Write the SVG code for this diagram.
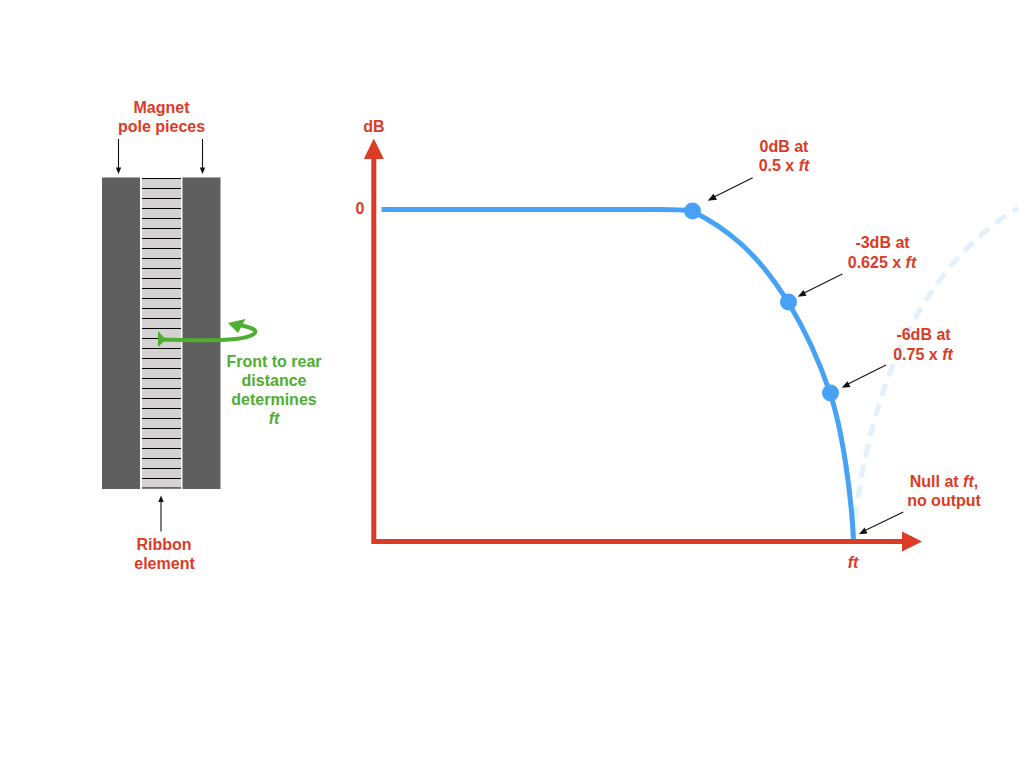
<svg xmlns="http://www.w3.org/2000/svg" width="1024" height="768" viewBox="0 0 1024 768">
<style>
text{font-family:"Liberation Sans",Arial,sans-serif;font-weight:700;font-size:16px;text-anchor:middle;fill:#dc3b26}
.g{fill:#4fae32}
.i{font-style:italic}
.pole{fill:#5f5f5f}
.rib{stroke:#000;stroke-width:1;fill:none}
.thin{stroke:#111;stroke-width:1.1;fill:none}
.head{fill:#111}
.axis{stroke:#dc3b26;stroke-width:5;fill:none}
.axh{fill:#dc3b26}
.curve{stroke:#47a2f6;stroke-width:5;fill:none}
.dot{fill:#47a2f6}
</style>
<rect width="1024" height="768" fill="#fff"/>
<g id="magnet">
<rect class="pole" x="102" y="177.5" width="38" height="311.5"/>
<rect class="pole" x="182.500" y="177.5" width="38" height="311.5"/>
<rect x="102" y="177" width="38" height="1" fill="#a8a8a8"/>
<rect x="182.500" y="177" width="38" height="1" fill="#a8a8a8"/>
</g>
<g id="ribbon">
<rect x="142" y="178" width="39" height="310" fill="#d4d2d2"/>
<path class="rib" d="M142 178.500H181M142 188.500H181M142 198.500H181M142 208.500H181M142 218.500H181M142 228.500H181M142 238.500H181M142 248.500H181M142 258.500H181M142 268.500H181M142 278.500H181M142 288.500H181M142 298.500H181M142 308.500H181M142 318.500H181M142 328.500H181M142 338.500H181M142 348.500H181M142 358.500H181M142 368.500H181M142 378.500H181M142 388.500H181M142 398.500H181M142 408.500H181M142 418.500H181M142 428.500H181M142 438.500H181M142 448.500H181M142 458.500H181M142 468.500H181M142 478.500H181M142 488H181"/>
</g>
<g id="connectors">
<path class="thin" d="M118.500 139V171"/><path class="head" d="M118.500 174L115.800 167.500H121.200Z"/>
<path class="thin" d="M202.500 139V171"/><path class="head" d="M202.500 174L199.800 167.500H205.200Z"/>
<path class="thin" d="M161 531.500V500"/><path class="head" d="M161 495.500L158.300 502H163.700Z"/>
<path class="thin" d="M752.700 177.700L712 198"/><path class="head" d="M707.700 200.700L713.500 193.800L717 199.800Z"/>
<path class="thin" d="M842.300 274L802 294"/><path class="head" d="M797.700 296.700L803.500 290L806.500 295.800Z"/>
<path class="thin" d="M886 365L846 385"/><path class="head" d="M841.700 387.700L847.500 381.300L850.500 387.100Z"/>
<path class="thin" d="M903.300 512L864 531"/><path class="head" d="M859 534.300L864.500 527.500L867.500 533.500Z"/>
<path d="M853 540C866 400 915 270 1018 208" fill="none" stroke="#e3f1fd" stroke-width="5" stroke-dasharray="13 8"/>
<path class="curve" d="M381.500 209.500H660C672 209.500 683 209.800 692 211C724 227 756 250 788 302C802 325 816 351 830 393C842 429 851 490 853.500 540"/>
<path class="axis" d="M373.800 155V541.400H905"/>
<path class="axh" d="M373.800 138.500L383.800 159H363.800Z"/>
<path class="axh" d="M922 541.400L902 531.500V551.500Z"/>
<path d="M160 339.500C190 340.500 220 340.500 236 339C254 337 258 332 254 329.500C250 327 245 326 238 324.500" fill="none" stroke="#4fae32" stroke-width="4"/>
<path d="M228 323L245.500 319L238 333Z" fill="#4fae32"/>
<path d="M158 331L166 339.500L158 347Z" fill="#4fae32"/>
</g>
<g id="points">
<circle class="dot" cx="692.500" cy="211" r="8.500"/>
<circle class="dot" cx="788.500" cy="302" r="8.500"/>
<circle class="dot" cx="830.500" cy="393" r="8.500"/>
</g>
<g id="labels">
<text x="161.500" y="112.500">Magnet</text>
<text x="161.500" y="131.500">pole pieces</text>
<text x="164" y="549.500">Ribbon</text>
<text x="164.500" y="568.500">element</text>
<text class="g" x="274" y="366.500">Front to rear</text>
<text class="g" x="274" y="385.500">distance</text>
<text class="g" x="274" y="404.500">determines</text>
<text class="g i" x="274" y="423.500">ft</text>
<text x="374" y="131.500">dB</text>
<text x="360" y="213.500">0</text>
<text x="784" y="152">0dB at</text>
<text x="784" y="171">0.5 x <tspan class="i">ft</tspan></text>
<text x="882.500" y="248">-3dB at</text>
<text x="882" y="267.500">0.625 x <tspan class="i">ft</tspan></text>
<text x="923.500" y="340">-6dB at</text>
<text x="923" y="359.500">0.75 x <tspan class="i">ft</tspan></text>
<text x="944" y="486.500">Null at <tspan class="i">ft</tspan>,</text>
<text x="944" y="505.500">no output</text>
<text class="i" x="853" y="567.500">ft</text>
</g>
</svg>
